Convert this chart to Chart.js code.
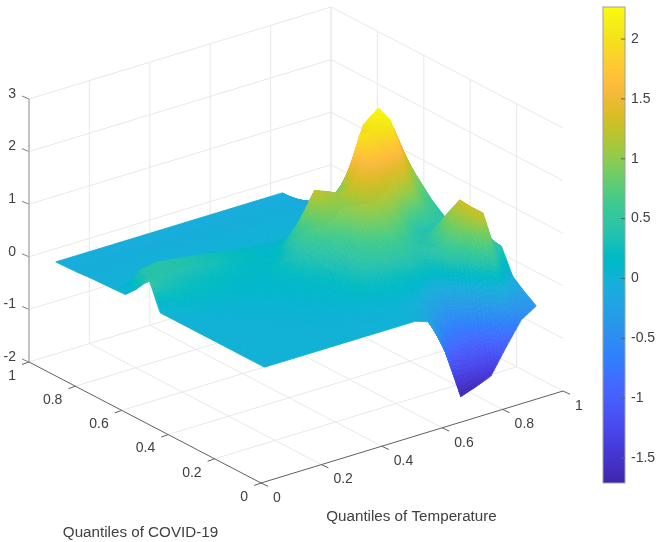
<!DOCTYPE html>
<html><head><meta charset="utf-8">
<style>html,body{margin:0;padding:0;background:#fff}canvas{display:block;filter:blur(.45px)}</style>
<script src="https://cdn.jsdelivr.net/npm/chart.js@4"></script>
</head><body><canvas id="c" width="657" height="542"></canvas>
<script>
// ---------- data ----------
const xTicks = [0, 0.2, 0.4, 0.6, 0.8, 1];      // Quantiles of Temperature
const yTicks = [0, 0.2, 0.4, 0.6, 0.8, 1];      // Quantiles of COVID-19
const zTicks = [-2, -1, 0, 1, 2, 3];
const colorTicksStep = 0.5;
const colorMin = -1.709, colorMax = 2.268;
const xLabel = 'Quantiles of Temperature';
const yLabel = 'Quantiles of COVID-19';
const temperatureQ = [.05,.1,.15,.2,.25,.3,.35,.4,.45,.5,.55,.6,.65,.7,.75,.8,.85,.9,.95];
const covidQ       = [.05,.1,.15,.2,.25,.3,.35,.4,.45,.5,.55,.6,.65,.7,.75,.8,.85,.9,.95];
const z05 = [0,0,0,0,0,0,0,0,0,0,0,-.1,-.78,-1.7,-1.6,-1.48,-1.02,-.59,-.41];
const z10 = [0,0,0,0,0,0,0,0,0,0,0,-.05,-.3,-.83,-1,-.9,.2,-.15,-.26];
const z15 = [0,0,0,0,0,0,.01,.01,.02,.02,.03,.02,-.05,-.35,-.55,-.1,1.3,.32,-.09];
const z20 = [0,0,0,0,0,.01,.02,.03,.05,.08,.1,.12,.1,0,-.1,.6,1.3,.58,.38];
const z25 = [0,0,0,0,.01,.02,.03,.05,.08,.15,.2,.25,.25,.3,.25,.65,1.32,.9,.38];
const z30 = [0,0,0,.01,.02,.03,.05,.07,.1,.16,.3,.4,.5,.5,.4,.45,.96,.85,.25];
const z35 = [0,0,.01,.02,.03,.05,.07,.1,.13,.2,.33,.55,.65,.75,.55,.35,.6,.6,.2];
const z40 = [0,.01,.03,.05,.06,.07,.1,.12,.17,.28,.42,.6,.9,1,.95,.55,.2,.4,.2];
const z45 = [0,.03,.08,.1,.1,.1,.12,.15,.22,.35,.5,.75,1,1.27,1.3,1.15,.95,.6,.4];
const z50 = [0,.15,.18,.18,.17,.15,.14,.15,.22,.4,.7,.95,1,1.45,1.65,1.6,1.5,.85,.57];
const z55 = [.54,.35,.28,.25,.22,.2,.18,.15,.15,.25,.65,1.25,1.13,.98,2.05,2,2.15,1.3,.8];
const z60 = [.22,.45,.42,.38,.35,.3,.25,.2,.15,.1,.3,.66,1,.85,1.15,2.03,2.26,1.8,1];
const z65 = [0,.38,.43,.4,.36,.32,.27,.22,.18,.12,.08,.05,.35,.2,.3,1.1,1.9,1.5,.8];
const z70 = [-.01,-.01,-.01,-.01,-.01,-.01,-.01,-.01,-.01,-.01,-.01,-.01,-.01,0,0,.2,.9,.8,.3];
const z75 = [-.02,-.02,-.02,-.02,-.02,-.02,-.02,-.02,-.02,-.02,-.02,-.02,-.02,-.02,0,0,.1,.1,-.1];
const z80 = [-.03,-.03,-.03,-.03,-.03,-.03,-.03,-.03,-.03,-.03,-.03,-.03,-.03,-.03,-.03,-.05,-.1,-.15,-.2];
const z85 = [-.05,-.05,-.05,-.05,-.05,-.05,-.05,-.05,-.05,-.05,-.05,-.05,-.05,-.05,-.05,-.08,-.15,-.25,-.3];
const z90 = [-.06,-.06,-.06,-.06,-.06,-.06,-.06,-.06,-.06,-.06,-.06,-.06,-.06,-.06,-.06,-.1,-.2,-.35,-.45];
const z95 = [-.07,-.07,-.07,-.07,-.07,-.07,-.07,-.07,-.07,-.07,-.07,-.07,-.07,-.07,-.07,-.07,-.3,-.5,-.6];
const zRows = [z05,z10,z15,z20,z25,z30,z35,z40,z45,z50,z55,z60,z65,z70,z75,z80,z85,z90,z95];

// ---------- parula colormap ----------
const parula = [[.2422,.1504,.6603],[.2504,.1650,.7076],[.2578,.1818,.7511],[.2647,.1978,.7952],[.2706,.2147,.8364],[.2751,.2342,.8710],[.2783,.2559,.8991],[.2803,.2782,.9221],[.2813,.3006,.9414],[.2810,.3228,.9579],[.2795,.3447,.9717],[.2760,.3667,.9829],[.2699,.3892,.9906],[.2602,.4123,.9952],[.2440,.4358,.9988],[.2206,.4603,.9973],[.1963,.4847,.9892],[.1834,.5074,.9798],[.1786,.5289,.9682],[.1764,.5499,.9520],[.1687,.5703,.9359],[.1540,.5902,.9218],[.1460,.6091,.9079],[.1380,.6276,.8973],[.1248,.6459,.8883],[.1113,.6635,.8763],[.0952,.6798,.8598],[.0689,.6948,.8394],[.0297,.7082,.8163],[.0036,.7203,.7917],[.0067,.7312,.7660],[.0433,.7411,.7394],[.0964,.7500,.7120],[.1408,.7584,.6842],[.1717,.7670,.6554],[.1938,.7758,.6251],[.2161,.7843,.5923],[.2470,.7918,.5567],[.2906,.7973,.5188],[.3406,.8008,.4789],[.3909,.8029,.4354],[.4456,.8024,.3909],[.5044,.7993,.3480],[.5616,.7942,.3045],[.6174,.7876,.2612],[.6720,.7793,.2227],[.7242,.7698,.1910],[.7738,.7598,.1646],[.8203,.7498,.1535],[.8634,.7406,.1596],[.9035,.7330,.1774],[.9393,.7288,.2100],[.9728,.7298,.2394],[.9956,.7434,.2371],[.9970,.7659,.2199],[.9952,.7861,.1963],[.9892,.8135,.1753],[.9786,.8386,.1487],[.9676,.8639,.1283],[.9610,.8890,.1000],[.9597,.9135,.0950],[.9628,.9373,.0850],[.9691,.9606,.0650],[.9763,.9831,.0538]];
const toCss = c => `rgb(${Math.round(c[0]*255)},${Math.round(c[1]*255)},${Math.round(c[2]*255)})`;
function colorOf(v){
  const t = Math.max(0, Math.min(1, (v - colorMin) / (colorMax - colorMin))) * (parula.length - 1);
  const k = Math.min(parula.length - 2, Math.floor(t)), f = t - k, a = parula[k], b = parula[k+1];
  return toCss([a[0]+(b[0]-a[0])*f, a[1]+(b[1]-a[1])*f, a[2]+(b[2]-a[2])*f]);
}

// ---------- orthographic view of the 3D box ----------
const view = {ox:261, oy:483, xx:302, xy:-92, yx:-232, yy:-121, zy:-52.6, zBase:-2};
const project = (x,y,z) => ({x: view.ox + view.xx*x + view.yx*y,
                             y: view.oy + view.xy*x + view.yy*y + view.zy*(z - view.zBase)});
const segments = list => list.flatMap(([a,b]) => [a, b, {x:NaN,y:NaN}]);
const zLo = zTicks[0], zHi = zTicks[zTicks.length-1];

const gridSegs = [];
xTicks.slice(1).forEach(t => {
  gridSegs.push([project(t,0,zLo), project(t,1,zLo)]);      // floor
  gridSegs.push([project(t,1,zLo), project(t,1,zHi)]);      // back-left wall
});
yTicks.slice(1).forEach(t => {
  gridSegs.push([project(0,t,zLo), project(1,t,zLo)]);      // floor
  gridSegs.push([project(1,t,zLo), project(1,t,zHi)]);      // back-right wall
});
zTicks.slice(1).forEach(t => {
  gridSegs.push([project(0,1,t), project(1,1,t)]);
  gridSegs.push([project(1,0,t), project(1,1,t)]);
});
const shift = (p,dx,dy) => ({x:p.x+dx, y:p.y+dy});
const floorAxis = [[project(0,0,zLo),project(1,0,zLo)],[project(0,0,zLo),project(0,1,zLo)]];
xTicks.forEach(t => { const p = project(t,0,zLo); floorAxis.push([p, shift(p,7,3.3)]); });
yTicks.forEach(t => { const p = project(0,t,zLo); floorAxis.push([p, shift(p,-7,2.5)]); });
const zAxisTicks = zTicks.map(t => { const p = project(0,1,t); return [p, shift(p,-7,-3)]; });

// surface vertices, row by row
const surfacePts = [];
zRows.forEach((row,j) => row.forEach((z,i) => {
  const p = project(temperatureQ[i], covidQ[j], z);
  surfacePts.push({x:p.x, y:p.y, z});
}));

const FONT = '"Liberation Sans", Arial, sans-serif';
const TEXT = '#404040';

const surfacePlugin = {
  id:'surface3d',
  afterDatasetDraw(chart, args){
    if (chart.data.datasets[args.index].label !== 'surface') return;
    const ctx = chart.ctx, pts = args.meta.data, nx = temperatureQ.length, ny = covidQ.length, sub = 10;
    const vals = chart.data.datasets[args.index].data;
    const at = (i,j) => i + j*nx;
    ctx.save(); ctx.lineWidth = .7; ctx.lineJoin = 'round';
    for (let i = nx-2; i >= 0; i--) for (let j = ny-2; j >= 0; j--) {
      const a=pts[at(i,j)], b=pts[at(i+1,j)], c=pts[at(i+1,j+1)], d=pts[at(i,j+1)];
      const za=vals[at(i,j)].z, zb=vals[at(i+1,j)].z, zc=vals[at(i+1,j+1)].z, zd=vals[at(i,j+1)].z;
      const lerp = (u,v) => ({
        x:(1-u)*(1-v)*a.x+u*(1-v)*b.x+u*v*c.x+(1-u)*v*d.x,
        y:(1-u)*(1-v)*a.y+u*(1-v)*b.y+u*v*c.y+(1-u)*v*d.y,
        z:(1-u)*(1-v)*za+u*(1-v)*zb+u*v*zc+(1-u)*v*zd});
      for (let s=sub-1;s>=0;s--) for (let r=sub-1;r>=0;r--) {
        const u0=s/sub,u1=(s+1)/sub,v0=r/sub,v1=(r+1)/sub;
        const p=lerp(u0,v0),q=lerp(u1,v0),w=lerp(u1,v1),e=lerp(u0,v1),m=lerp((u0+u1)/2,(v0+v1)/2);
        const col=colorOf(m.z);
        ctx.fillStyle=col; ctx.strokeStyle=col;
        ctx.beginPath(); ctx.moveTo(p.x,p.y); ctx.lineTo(q.x,q.y); ctx.lineTo(w.x,w.y); ctx.lineTo(e.x,e.y); ctx.closePath();
        ctx.fill(); ctx.stroke();
      }
    }
    ctx.restore();
  }
};

const labelsPlugin = {
  id:'labels3d',
  beforeDatasetsDraw(chart){
    // colorbar
    const ctx = chart.ctx, s = chart.scales.c, right = chart.chartArea.right, barW = 22;
    const top = s.getPixelForValue(colorMax), bot = s.getPixelForValue(colorMin);
    const g = ctx.createLinearGradient(0,bot,0,top);
    parula.forEach((c,k) => g.addColorStop(k/(parula.length-1),toCss(c)));
    ctx.save();
    ctx.fillStyle = g; ctx.fillRect(right-barW,top,barW,bot-top);
    ctx.strokeStyle = '#a0a0a0'; ctx.lineWidth = 1; ctx.strokeRect(right-barW,top,barW,bot-top);
    ctx.strokeStyle = '#606060';
    s.ticks.forEach(t => { const y=s.getPixelForValue(t.value); ctx.beginPath(); ctx.moveTo(right,y); ctx.lineTo(right-4,y); ctx.stroke(); });
    ctx.restore();
  },
  afterDraw(chart){
    const ctx = chart.ctx, sx = chart.scales.x, sy = chart.scales.y;
    const px = p => ({x:sx.getPixelForValue(p.x), y:sy.getPixelForValue(p.y)});
    ctx.save();
    ctx.fillStyle = TEXT; ctx.font = '14px '+FONT; ctx.textBaseline='middle';
    ctx.textAlign='right';
    zTicks.forEach(t => { const p=px(project(0,1,t)); ctx.fillText(String(t), p.x-13, p.y-5); });
    yTicks.forEach(t => { const p=px(project(0,t,zLo)); ctx.fillText(String(t), p.x-13, p.y+14); });
    ctx.textAlign='left';
    xTicks.forEach(t => { const p=px(project(t,0,zLo)); ctx.fillText(String(t), p.x+12, p.y+15); });
    ctx.font = '15.2px '+FONT;
    ctx.textAlign='center';
    ctx.fillText(yLabel, 140.5, 533);
    ctx.fillText(xLabel, 411.5, 517);
    ctx.restore();
  }
};

new Chart(document.getElementById('c'), {
  type:'scatter',
  data:{datasets:[
    {label:'grid', data:segments(gridSegs), showLine:true, pointRadius:0, borderColor:'#e8e8ea', borderWidth:1, clip:false, order:5},
    {label:'zaxis', data:[project(0,1,zLo),project(0,1,zHi)], showLine:true, pointRadius:0, borderColor:'#b4b4b4', borderWidth:1.6, clip:false, order:4},
    {label:'zticks', data:segments(zAxisTicks), showLine:true, pointRadius:0, borderColor:'#808080', borderWidth:1, clip:false, order:4},
    {label:'flooraxes', data:segments(floorAxis), showLine:true, pointRadius:0, borderColor:'#606060', borderWidth:1, clip:false, order:3},
    {label:'surface', data:surfacePts, showLine:false, pointRadius:0, clip:false, order:2}
  ]},
  options:{
    responsive:false, animation:false, events:[],
    layout:{padding:{left:0,top:7,bottom:59,right:0},autoPadding:false},
    plugins:{legend:{display:false},tooltip:{enabled:false}},
    scales:{
      x:{type:'linear',display:false,min:0,max:625},
      y:{type:'linear',display:false,min:7,max:483,reverse:true},
      c:{type:'linear',axis:'y',position:'right',min:colorMin,max:colorMax,
         afterFit(s){s.width=32;s.paddingTop=0;s.paddingBottom=0;},
         border:{display:false},grid:{display:false,drawTicks:false},
         ticks:{stepSize:colorTicksStep,includeBounds:false,padding:6,color:TEXT,font:{family:FONT,size:14},
                callback:v=>String(+v.toFixed(1))}}
    }
  },
  plugins:[surfacePlugin,labelsPlugin]
});
</script></body></html>
